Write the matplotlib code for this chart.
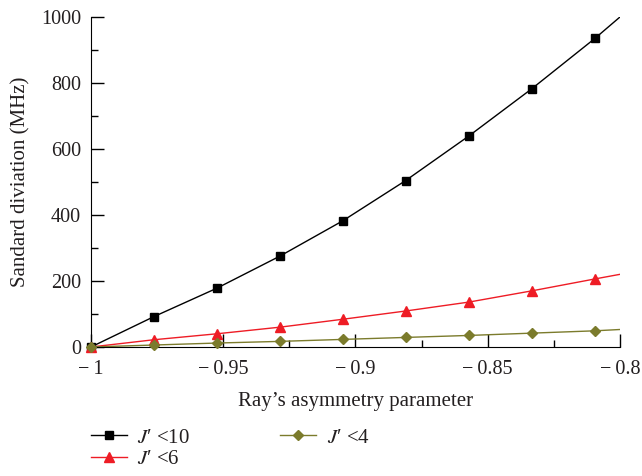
import matplotlib
matplotlib.use("Agg")
import matplotlib.pyplot as plt
from matplotlib.ticker import MultipleLocator, FuncFormatter

plt.rcParams['font.family'] = ['Liberation Serif', 'DejaVu Serif']
plt.rcParams['mathtext.fontset'] = 'stix'

# Data
kappa = [-1.0, -0.9762, -0.9524, -0.9286, -0.9048, -0.8810, -0.8571, -0.8333, -0.8095]
sd_j10 = [0, 92, 178, 275, 382, 504, 639, 782, 934]
sd_j6 = [0, 22, 40, 60, 84, 109, 136, 170, 206]
sd_j4 = [0, 6, 12, 17, 23, 29, 35, 42, 49]

# curve end values at the right edge of the axis
kappa_end = -0.8
end_j10 = 999
end_j6 = 220
end_j4 = 53

labels = ["$J$\u2032 <10", "$J$\u2032 <6", "$J$\u2032 <4"]

fig = plt.figure(figsize=(6.42, 4.76), dpi=100)
ax = fig.add_axes([0.1417, 0.271, 0.8240, 0.694])

c10, c6, c4 = 'black', '#ee1c25', '#7b7b2c'
tc = '#231f20'

series = [(sd_j10, end_j10, c10, 's', 6, labels[0]),
          (sd_j6, end_j6, c6, '^', 7, labels[1]),
          (sd_j4, end_j4, c4, 'D', 5, labels[2])]
handles = []
for vals, endv, col, mk, ms, lab in series:
    ax.plot(kappa + [kappa_end], vals + [endv], color=col, lw=1.0, zorder=2)
    ax.plot(kappa, vals, linestyle='none', marker=mk, ms=ms, color=col, zorder=3,
            clip_on=False)
    h, = ax.plot([], [], color=col, lw=1.0, marker=mk, ms=ms, label=lab)
    handles.append(h)

ax.set_xlim(-1, -0.8)
ax.set_ylim(0, 1000)
ax.spines['top'].set_visible(False)
ax.spines['right'].set_visible(False)
ax.xaxis.set_major_locator(MultipleLocator(0.05))
ax.xaxis.set_minor_locator(MultipleLocator(0.025))
ax.yaxis.set_major_locator(MultipleLocator(200))
ax.yaxis.set_minor_locator(MultipleLocator(100))


def xfmt(v, pos):
    s = ('%.2f' % abs(v)).rstrip('0').rstrip('.')
    return ('\u2212\u2009' + s) if v < -1e-9 else s


ax.xaxis.set_major_formatter(FuncFormatter(xfmt))
ax.tick_params(which='major', direction='in', length=9.5, width=1.0, labelsize=14.5,
               colors='black', labelcolor=tc)
ax.tick_params(which='minor', direction='in', length=5, width=1.0)
ax.tick_params(axis='x', pad=9)
ax.tick_params(axis='y', pad=7)
ax.set_xlabel('Ray\u2019s asymmetry parameter', fontsize=15, color=tc, labelpad=10)
ax.set_ylabel('Sandard diviation (MHz)', fontsize=15, color=tc, labelpad=8)

fig.legend(handles=handles, loc='upper left', bbox_to_anchor=(0.128, 0.118),
           ncol=2, frameon=False, fontsize=15, handlelength=1.75,
           columnspacing=4.3, labelspacing=0.1, handletextpad=0.5,
           borderaxespad=0, labelcolor=tc)

fig.savefig('out.png', dpi=100)
